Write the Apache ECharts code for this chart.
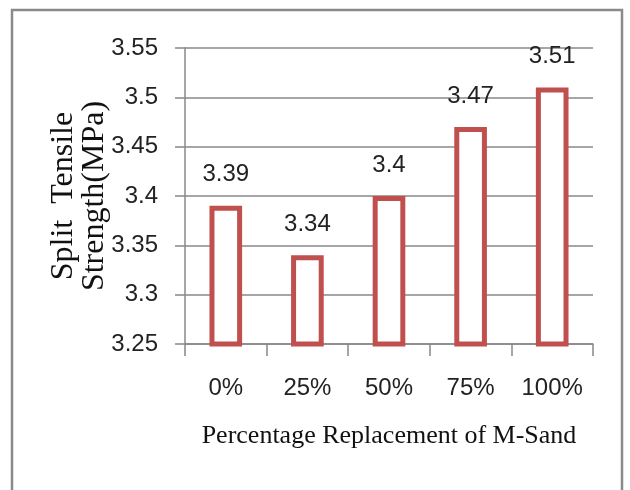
<!DOCTYPE html>
<html>
<head>
<meta charset="utf-8">
<script src="https://cdn.jsdelivr.net/npm/echarts@6/dist/echarts.min.js"></script>
<style>
html,body{margin:0;padding:0;background:#fff;}
#c{width:630px;height:490px;}
</style>
</head>
<body>
<div id="c"></div>
<script>
var categories = ['0%', '25%', '50%', '75%', '100%'];
var strengthValues = [3.39, 3.34, 3.4, 3.47, 3.51];
var valueLabels = ['3.39', '3.34', '3.4', '3.47', '3.51'];
var yTickLabels = ['3.25', '3.3', '3.35', '3.4', '3.45', '3.5', '3.55'];
var xTitle = 'Percentage Replacement of M-Sand';
var yTitle = 'Split  Tensile\nStrength(MPa)';

var chart = echarts.init(document.getElementById('c'), null, {renderer: 'canvas'});
var labelFont = '"Liberation Sans", Arial, sans-serif';
var serifFont = '"Liberation Serif", "DejaVu Serif", serif';

chart.setOption({
  animation: false,
  backgroundColor: '#ffffff',
  graphic: [{
    type: 'rect',
    shape: {x: 12, y: 10, width: 610, height: 520},
    style: {fill: 'none', stroke: '#8a8a8a', lineWidth: 2.5},
    z: 100
  }],
  grid: {left: 185, right: 37, top: 48, bottom: 146, containLabel: false},
  xAxis: {
    type: 'category',
    data: categories,
    name: xTitle,
    nameLocation: 'middle',
    nameGap: 79,
    nameMoveOverlap: false,
    nameTextStyle: {fontFamily: serifFont, fontSize: 26, color: '#111'},
    axisLine: {show: true, lineStyle: {color: '#888', width: 1.5}},
    axisTick: {show: true, length: 12, alignWithLabel: false, lineStyle: {color: '#888', width: 1.5}},
    axisLabel: {interval: 0, margin: 32, fontFamily: labelFont, fontSize: 24, color: '#222'}
  },
  yAxis: {
    type: 'value',
    min: 3.25,
    max: 3.55,
    interval: 0.05,
    name: yTitle,
    nameLocation: 'middle',
    nameGap: 75,
    nameMoveOverlap: false,
    nameRotate: 90,
    nameTextStyle: {fontFamily: serifFont, fontSize: 32, lineHeight: 31, color: '#111', align: 'center'},
    axisLine: {show: true, lineStyle: {color: '#888', width: 1.5}},
    axisTick: {show: true, length: 10, lineStyle: {color: '#888', width: 1.5}},
    splitLine: {show: true, lineStyle: {color: '#888', width: 1.5}},
    axisLabel: {
      margin: 27, fontFamily: labelFont, fontSize: 24, color: '#222',
      formatter: function (v) {
        var idx = Math.round((v - 3.25) / 0.05);
        return yTickLabels[idx] !== undefined ? yTickLabels[idx] : '';
      }
    }
  },
  series: [{
    type: 'bar',
    data: strengthValues,
    barWidth: '40%',
    itemStyle: {color: '#ffffff', borderColor: '#C0504D', borderWidth: 5},
    label: {
      show: true,
      position: 'top',
      distance: 19,
      fontFamily: labelFont,
      fontSize: 24,
      color: '#222',
      formatter: function (p) { return valueLabels[p.dataIndex]; }
    }
  }]
});
</script>
</body>
</html>
